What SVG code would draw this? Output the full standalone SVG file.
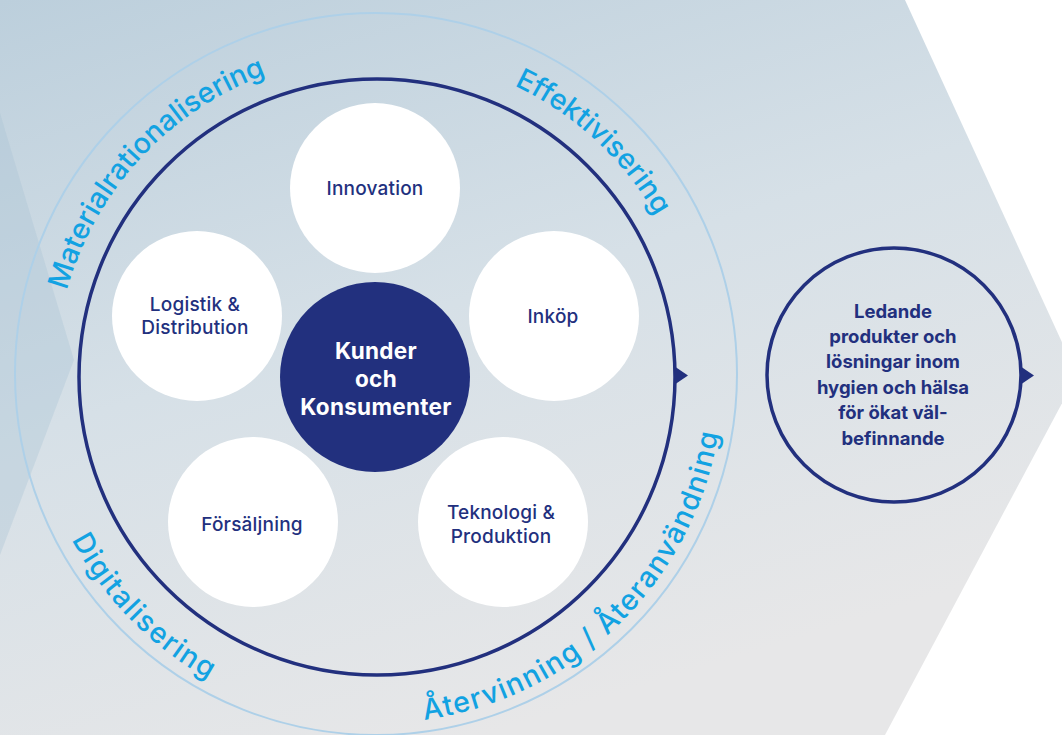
<svg xmlns="http://www.w3.org/2000/svg" width="1062" height="735" viewBox="0 0 1062 735">
<defs>
<linearGradient id="bg" x1="0" y1="0" x2="0.45" y2="1">
<stop offset="0" stop-color="#bccfdc"/>
<stop offset="0.5" stop-color="#d6e0e7"/>
<stop offset="1" stop-color="#e7e7e8"/>
</linearGradient>
<path id="topArc" d="M 55 377 A 322 322 0 0 1 699 377"/>
<path id="botArc" d="M 31 377 A 346 346 0 0 0 723 377"/>
</defs>
<style>
.node{fill:#ffffff}
.lbl{font-family:Inter,"Liberation Sans",sans-serif;font-size:19px;font-weight:500;fill:#22307e;text-anchor:middle;letter-spacing:0.2px}
.ring{font-family:Inter,"Liberation Sans",sans-serif;font-size:28.5px;font-weight:500;fill:#12a2e2}
.bot{letter-spacing:1.5px}
.bold{font-family:Inter,"Liberation Sans",sans-serif;font-weight:700;text-anchor:middle}
.navy{fill:none;stroke:#22307e;stroke-width:3.5}
.head{fill:#22307e}
</style>
<g id="background">
<rect width="1062" height="735" fill="#ffffff"/>
<polygon points="0,0 905,0 1077,375 885,735 0,735" fill="url(#bg)"/>
<polygon points="0,113 74,360 0,555" fill="#a9c3d4" opacity="0.35"/>
</g>
<g id="connectors">
<circle cx="376" cy="374" r="361" fill="none" stroke="#aed0e8" stroke-width="2"/>
<circle class="navy" cx="377" cy="377" r="298"/>
<polygon class="head" points="674,366 688,375.5 674,385"/>
<circle class="navy" cx="894" cy="375" r="127"/>
<polygon class="head" points="1020,366 1034,375.5 1020,385"/>
</g>
<g id="ring-labels">
<text class="ring" text-anchor="middle"><textPath href="#topArc" startOffset="240">Materialrationalisering</textPath></text>
<text class="ring" text-anchor="middle"><textPath href="#topArc" startOffset="745">Effektivisering</textPath></text>
<text class="ring bot" text-anchor="middle"><textPath href="#botArc" startOffset="269">Digitalisering</textPath></text>
<text class="ring bot" text-anchor="middle"><textPath href="#botArc" startOffset="811">Återvinning / Återanvändning</textPath></text>
</g>
<g id="innovation"><circle class="node" cx="375" cy="188" r="85"/><text class="lbl" x="375" y="195">Innovation</text></g>
<g id="inkop"><circle class="node" cx="554" cy="316" r="85"/><text class="lbl" x="553" y="323">Inköp</text></g>
<g id="logistik"><circle class="node" cx="197" cy="316" r="85"/><text class="lbl" x="195" y="311">Logistik &amp;</text><text class="lbl" x="195" y="334">Distribution</text></g>
<g id="forsaljning"><circle class="node" cx="253" cy="522" r="85"/><text class="lbl" x="252" y="531">Försäljning</text></g>
<g id="teknologi"><circle class="node" cx="503" cy="522" r="85"/><text class="lbl" x="501" y="519">Teknologi &amp;</text><text class="lbl" x="501" y="543">Produktion</text></g>
<g id="kunder"><circle cx="375" cy="377" r="95" fill="#22307e"/>
<text class="bold" font-size="22.5" fill="#ffffff" letter-spacing="0.3"><tspan x="376" y="359">Kunder</tspan><tspan x="376" y="387">och</tspan><tspan x="376" y="415">Konsumenter</tspan></text></g>
<g id="ledande">
<text class="bold" font-size="18.5" font-weight="800" fill="#22307e"><tspan x="893" y="318">Ledande</tspan><tspan x="893" y="343">produkter och</tspan><tspan x="893" y="368">lösningar inom</tspan><tspan x="893" y="394">hygien och hälsa</tspan><tspan x="893" y="419">för ökat väl-</tspan><tspan x="893" y="445">befinnande</tspan></text>
</g>
</svg>
